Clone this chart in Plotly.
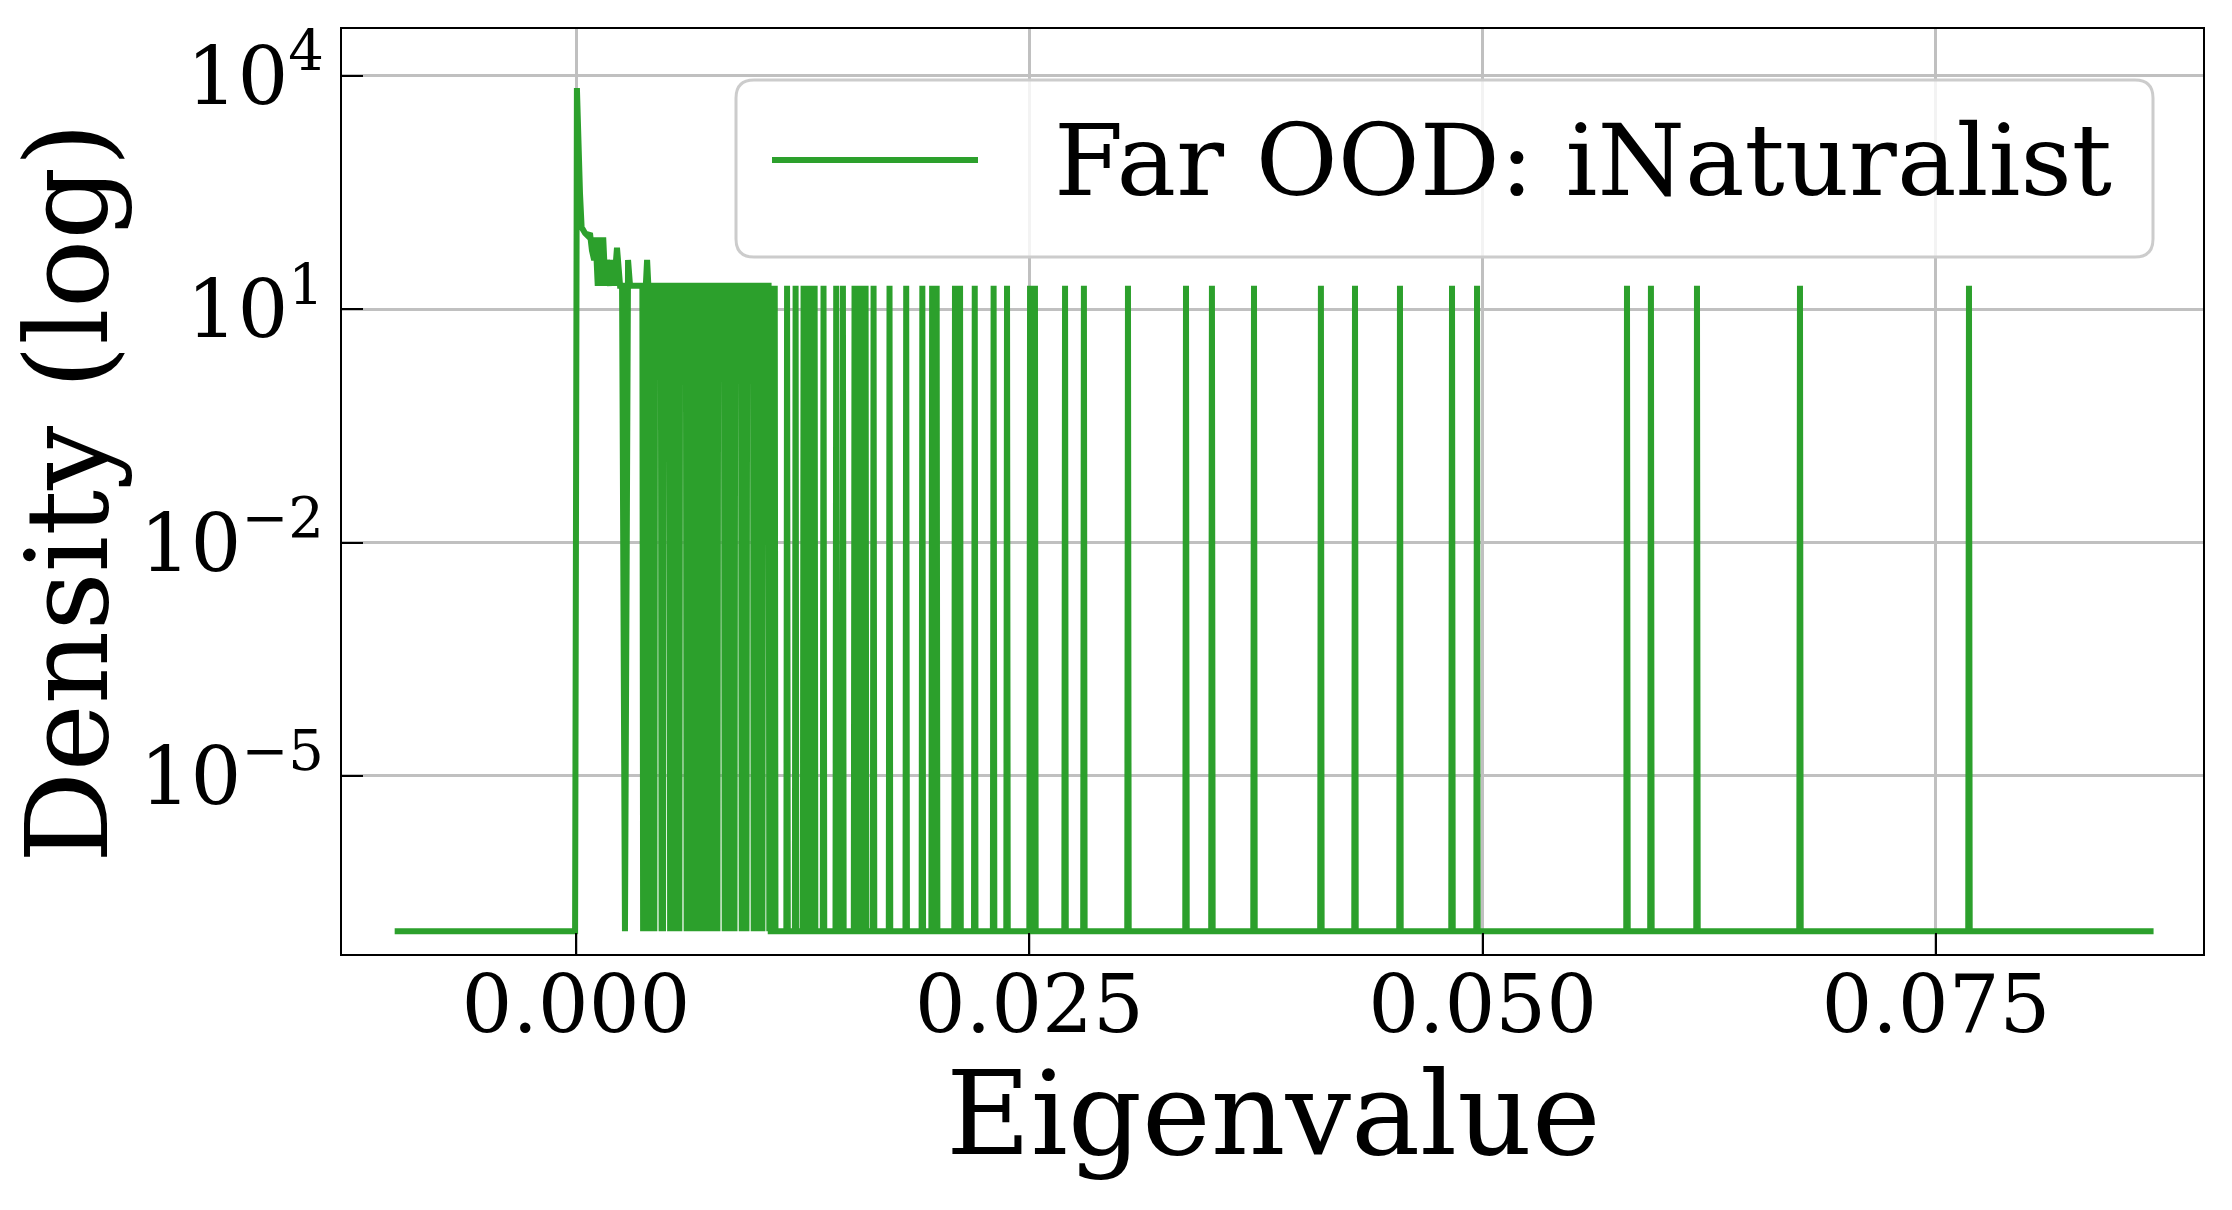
import plotly.graph_objects as go

# ---------------- data ----------------
BASE = 1e-7          # floor of the density curve
SPIKE = 20.0         # height of a single-eigenvalue spike
HALF_W = 0.00004     # half width of one spike / dip (in eigenvalue units)

# continuous bulk of the spectrum near zero
bulk_x = [-0.0100, -0.00005, 0.00005, 0.00022, 0.00031, 0.00050, 0.00065, 0.00077,
          0.00088, 0.00100, 0.00108, 0.00120, 0.00128, 0.00142, 0.00150, 0.00162,
          0.00171, 0.00188, 0.00199, 0.00210, 0.00226, 0.00243, 0.00254, 0.00270,
          0.00287, 0.00298, 0.00340, 0.00362, 0.00392]
bulk_y = [BASE, BASE, 7000, 310, 113, 95, 88, 95,
          57, 43, 84, 20, 84, 20, 84, 20,
          43, 20, 43, 20, 62, 20, 20, BASE,
          43, 20, 20, 20, 43]

# dense band: positions where the curve falls from the spike level to the floor
dense_dips = [0.00370, 0.00381, 0.00403, 0.00413, 0.00423, 0.00432, 0.00472, 0.00480,
              0.00519, 0.00529, 0.00538, 0.00549, 0.00559, 0.00570, 0.00610, 0.00619,
              0.00631, 0.00640, 0.00653, 0.00663, 0.00676, 0.00686, 0.00699, 0.00708,
              0.00722, 0.00731, 0.00745, 0.00754, 0.00767, 0.00780, 0.00820, 0.00830,
              0.00841, 0.00852, 0.00863, 0.00874, 0.00914, 0.00923, 0.00931, 0.00940,
              0.00980, 0.00990, 0.00999, 0.01010, 0.01019, 0.01028, 0.01066]
dense_end = 0.01074

# isolated eigenvalue spikes
spikes = [0.01096, 0.01164, 0.01211, 0.01255, 0.01285, 0.01316, 0.01365, 0.01435,
          0.01472, 0.01536, 0.01564, 0.01597, 0.01641, 0.01729, 0.01821, 0.01910,
          0.01964, 0.01989, 0.02090, 0.02118, 0.02199, 0.02303, 0.02377, 0.02504,
          0.02531, 0.02697, 0.02801, 0.03044, 0.03364, 0.03507, 0.03739, 0.04108,
          0.04296, 0.04544, 0.04831, 0.04969, 0.05796, 0.05928, 0.06182, 0.06750,
          0.07682]
x_end = 0.0870

x_ticks = [0.0, 0.025, 0.050, 0.075]
x_ticklabels = ["0.000", "0.025", "0.050", "0.075"]
y_ticks = [1e4, 1e1, 1e-2, 1e-5]
y_ticklabels = ["10<sup>4</sup>", "10<sup>1</sup>", "10<sup>\u22122</sup>", "10<sup>\u22125</sup>"]

series_name = "Far OOD: iNaturalist"
x_title = "Eigenvalue"
y_title = "Density (log)"

# ---------------- build the curve ----------------
pts = list(zip(bulk_x, bulk_y))
for d in dense_dips:
    pts += [(d - HALF_W, SPIKE), (d, BASE), (d + HALF_W, SPIKE)]
pts.append((dense_end, BASE))
for s in spikes:
    pts += [(s - HALF_W, BASE), (s, SPIKE), (s + HALF_W, BASE)]
pts.append((x_end, BASE))
pts.sort(key=lambda p: p[0])
xs = [p[0] for p in pts]
ys = [p[1] for p in pts]

GREEN = "#2ca02c"
FONT = "DejaVu Serif"

W, H = 2232, 1210
L, R, T, B = 342, 2203, 29, 954


def px(x):
    return (x - L) / (R - L)


def py(y):
    return (B - y) / (B - T)


fig = go.Figure()
fig.add_trace(go.Scatter(x=xs, y=ys, mode="lines",
                         line=dict(color=GREEN, width=6, simplify=False),
                         name=series_name, showlegend=False, hoverinfo="skip"))

# ---------------- custom legend (matplotlib style) ----------------
lx0, lx1, ly0, ly1 = px(736), px(2153), py(257), py(80)
rx, ry = 18 / (R - L), 18 / (B - T)
path = (f"M {lx0+rx},{ly0} L {lx1-rx},{ly0} Q {lx1},{ly0} {lx1},{ly0+ry} "
        f"L {lx1},{ly1-ry} Q {lx1},{ly1} {lx1-rx},{ly1} "
        f"L {lx0+rx},{ly1} Q {lx0},{ly1} {lx0},{ly1-ry} "
        f"L {lx0},{ly0+ry} Q {lx0},{ly0} {lx0+rx},{ly0} Z")
fig.add_shape(type="path", path=path, xref="paper", yref="paper",
              fillcolor="rgba(255,255,255,0.8)", line=dict(color="#cccccc", width=3),
              layer="above")
fig.add_shape(type="line", xref="paper", yref="paper",
              x0=px(772), x1=px(978), y0=py(160), y1=py(160),
              line=dict(color=GREEN, width=6), layer="above")
fig.add_annotation(text=series_name, xref="paper", yref="paper",
                   x=px(1052), y=py(160), xanchor="left", yanchor="middle",
                   showarrow=False, font=dict(family=FONT, size=100, color="black"))

# axis titles placed as annotations for exact positioning
fig.add_annotation(text=y_title, xref="paper", yref="paper",
                   x=px(67), y=py(493), xanchor="center", yanchor="middle",
                   textangle=-90, showarrow=False,
                   font=dict(family=FONT, size=114, color="black"))
fig.add_annotation(text=x_title, xref="paper", yref="paper",
                   x=px(1273), y=py(1113), xanchor="center", yanchor="middle",
                   showarrow=False,
                   font=dict(family=FONT, size=116, color="black"))

axis_common = dict(showline=True, linecolor="black", linewidth=2, mirror=True,
                   ticks="inside", ticklen=21, tickwidth=2, tickcolor="black",
                   showgrid=True, gridcolor="#c0c0c0", gridwidth=3, zeroline=False,
                   automargin=False,
                   tickfont=dict(family=FONT, size=80, color="black"))

fig.update_xaxes(range=[-0.012905, 0.089726], tickvals=x_ticks, ticktext=x_ticklabels,
                 ticklabelstandoff=-20, **axis_common)
fig.update_yaxes(type="log", range=[-7.292, 4.604], tickvals=y_ticks, ticktext=y_ticklabels,
                 **axis_common)

fig.update_layout(width=W, height=H, margin=dict(l=L, r=W - R, t=T, b=H - B),
                  plot_bgcolor="white", paper_bgcolor="white", showlegend=False)

fig.write_html("out.html")
